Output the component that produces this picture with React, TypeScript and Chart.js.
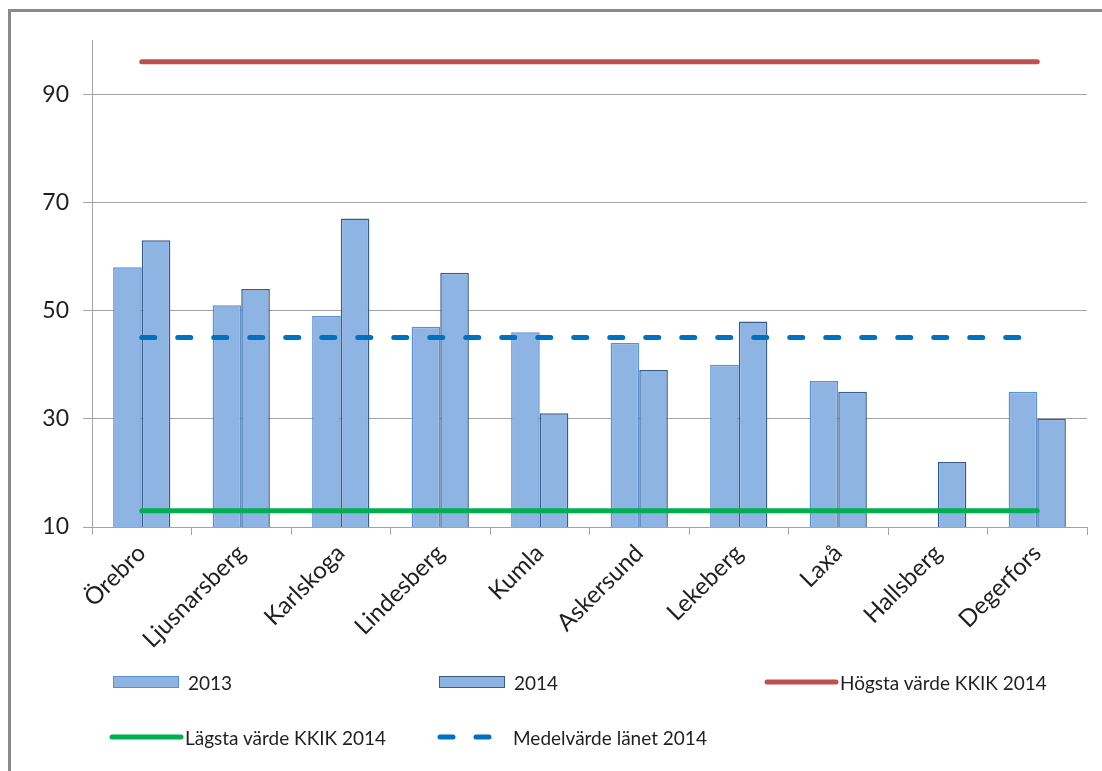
import React, { useEffect, useRef } from "react";
import { Chart, registerables } from "chart.js";

Chart.register(...registerables);

const categories = ["Örebro", "Ljusnarsberg", "Karlskoga", "Lindesberg", "Kumla", "Askersund", "Lekeberg", "Laxå", "Hallsberg", "Degerfors"];
const values2013: (number | null)[] = [58, 51, 49, 47, 46, 44, 40, 37, null, 35];
const values2014 = [63, 54, 67, 57, 31, 39, 48, 35, 22, 30];
const hogsta = [96, 96, 96, 96, 96, 96, 96, 96, 96, 96];
const lagsta = [13, 13, 13, 13, 13, 13, 13, 13, 13, 13];
const medel = [45, 45, 45, 45, 45, 45, 45, 45, 45, 45];
const yTicks = [10, 30, 50, 70, 90];

const FONT = "Lato, 'Open Sans', sans-serif";
const BAR_FILL = "#8EB4E3";
const BORDER_2013 = "#5A8FD4";
const BORDER_2014 = "#385D8A";
const RED = "#C0504D";
const GREEN = "#00B050";
const BLUE = "#0070C0";
const GRID = "#a3a3a3";
const TEXT = "#1f1f1f";

const W = 1086;
const H = 755;

function LegendItem(props: { left: number; top: number; kind: string; color?: string; border?: string; label: string }) {
  const { left, top, kind, color, border, label } = props;
  let sample: React.ReactNode = null;
  if (kind === "box") {
    sample = (
      <div style={{ width: 66, height: 12, background: BAR_FILL, border: `1.5px solid ${border}`, boxSizing: "border-box" }} />
    );
  } else {
    sample = (
      <svg width={76} height={10} style={{ display: "block" }}>
        <line
          x1={4}
          y1={5}
          x2={73}
          y2={5}
          stroke={color}
          strokeWidth={5}
          strokeLinecap="round"
          strokeDasharray={kind === "dash" ? "13 23" : undefined}
        />
      </svg>
    );
  }
  return (
    <div style={{ position: "absolute", left, top, display: "flex", alignItems: "center", height: 24 }}>
      <div style={{ width: kind === "box" ? 75 : 77, display: "flex", alignItems: "center" }}>{sample}</div>
      <span style={{ fontFamily: FONT, fontSize: 19, color: TEXT, whiteSpace: "nowrap" }}>{label}</span>
    </div>
  );
}

export default function App() {
  const ref = useRef<HTMLCanvasElement | null>(null);

  useEffect(() => {
    document.documentElement.style.overflow = "hidden";
    if (!ref.current) return;
    const chart = new Chart(ref.current, {
      type: "bar",
      data: {
        labels: categories,
        datasets: [
          {
            type: "line",
            label: "Högsta värde KKIK 2014",
            data: hogsta,
            borderColor: RED,
            borderWidth: 5,
            borderCapStyle: "round",
            pointRadius: 0,
            order: 1,
          },
          {
            type: "line",
            label: "Lägsta värde KKIK 2014",
            data: lagsta,
            borderColor: GREEN,
            borderWidth: 5,
            borderCapStyle: "round",
            pointRadius: 0,
            order: 1,
          },
          {
            type: "line",
            label: "Medelvärde länet 2014",
            data: medel,
            borderColor: BLUE,
            borderWidth: 5,
            borderCapStyle: "round",
            borderDash: [13, 23],
            pointRadius: 0,
            order: 1,
          },
          {
            type: "bar",
            label: "2013",
            data: values2013,
            backgroundColor: BAR_FILL,
            borderColor: BORDER_2013,
            borderWidth: 1.5,
            order: 2,
          },
          {
            type: "bar",
            label: "2014",
            data: values2014,
            backgroundColor: BAR_FILL,
            borderColor: BORDER_2014,
            borderWidth: 1.5,
            order: 2,
          },
        ] as any,
      },
      options: {
        responsive: false,
        animation: false,
        devicePixelRatio: 1,
        layout: { padding: { top: 32, right: 7, left: 0, bottom: 0 } },
        datasets: {
          bar: { categoryPercentage: 0.575, barPercentage: 1 },
        } as any,
        plugins: {
          legend: { display: false },
          tooltip: { enabled: false },
        },
        scales: {
          x: {
            offset: true,
            grid: {
              offset: true,
              drawOnChartArea: false,
              drawTicks: true,
              tickLength: 8,
              color: GRID,
            },
            border: { color: GRID, width: 1 },
            ticks: {
              autoSkip: false,
              minRotation: 45,
              maxRotation: 45,
              color: TEXT,
              padding: 4,
              font: { family: FONT, size: 24 },
            },
            afterFit: (scale: any) => {
              scale.height = H - 519;
            },
          },
          y: {
            min: 10,
            max: 100,
            grid: { color: GRID, tickLength: 9, lineWidth: 1 },
            border: { color: GRID, width: 1 },
            ticks: {
              color: TEXT,
              padding: 14,
              font: { family: FONT, size: 23 },
            },
            afterBuildTicks: (scale: any) => {
              scale.ticks = yTicks.map((v) => ({ value: v }));
            },
            afterFit: (scale: any) => {
              scale.width = 84;
            },
          },
        },
      } as any,
    });
    return () => chart.destroy();
  }, []);

  return (
    <div style={{ position: "relative", width: W, height: H, background: "#fff" }}>
      <div
        style={{
          position: "fixed",
          left: 8,
          top: 9,
          width: 3000,
          height: 3000,
          borderLeft: "3px solid #8a8a8a",
          borderTop: "3px solid #8a8a8a",
          pointerEvents: "none",
        }}
      />
      <canvas ref={ref} width={W} height={H} style={{ position: "absolute", left: 0, top: 0, width: W, height: H }} />
      <LegendItem left={105} top={662} kind="box" border={BORDER_2013} label="2013" />
      <LegendItem left={431} top={662} kind="box" border={BORDER_2014} label="2014" />
      <LegendItem left={755} top={662} kind="line" color={RED} label="Högsta värde KKIK 2014" />
      <LegendItem left={100} top={717} kind="line" color={GREEN} label="Lägsta värde KKIK 2014" />
      <LegendItem left={428} top={717} kind="dash" color={BLUE} label="Medelvärde länet 2014" />
    </div>
  );
}
